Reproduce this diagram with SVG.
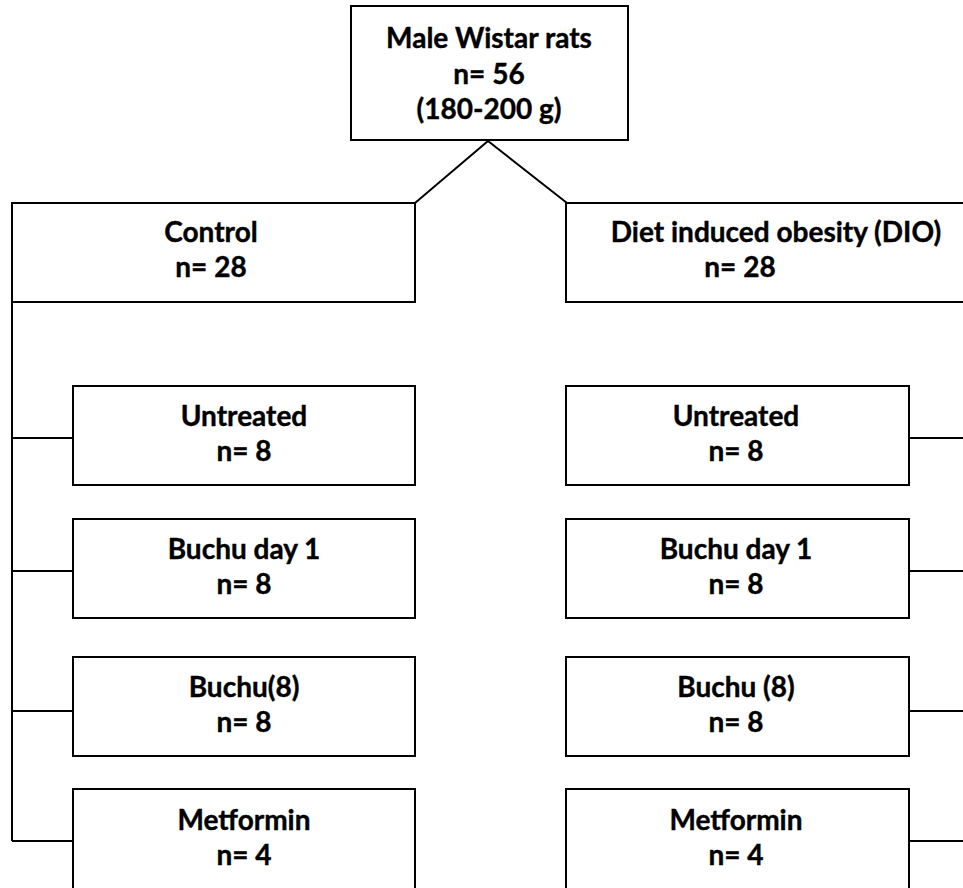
<svg xmlns="http://www.w3.org/2000/svg" width="963" height="888" viewBox="0 0 963 888">
<style>
.box{fill:#fff;stroke:#000;stroke-width:2}
.ln{fill:none;stroke:#000;stroke-width:2}
text{font-family:Lato,"Liberation Sans",sans-serif;font-weight:bold;font-size:28px;fill:#000;stroke:#000;stroke-width:0.4;text-anchor:middle}
</style>
<rect width="963" height="888" fill="#fff"/>
<g id="connectors">
<path class="ln" d="M488,141 L415,203 M488,141 L567,203"/>
<path class="ln" d="M12,302 V841 M12,438 H76 M12,571 H76 M12,711 H76 M12,841 H76"/>
<path class="ln" d="M906,438 H963 M906,571 H963 M906,711 H963 M906,841 H963"/>
</g>
<g id="root"><rect class="box" x="351" y="6" width="277" height="134"/>
<text x="489" y="48">Male Wistar rats</text><text x="489" y="84">n= 56</text><text x="489" y="119">(180-200 g)</text></g>
<g id="control"><rect class="box" x="12" y="203" width="403" height="99"/>
<text x="211" y="242">Control</text><text x="211" y="277">n= 28</text></g>
<g id="dio"><rect class="box" x="566" y="203" width="420" height="99"/>
<text x="776" y="242">Diet induced obesity (DIO)</text><text x="740" y="277">n= 28</text></g>
<g id="c-untreated"><rect class="box" x="73" y="386" width="342" height="99"/>
<text x="244" y="426">Untreated</text><text x="244" y="461">n= 8</text></g>
<g id="c-buchu1"><rect class="box" x="73" y="519" width="342" height="99"/>
<text x="244" y="559">Buchu day 1</text><text x="244" y="594">n= 8</text></g>
<g id="c-buchu8"><rect class="box" x="73" y="657" width="342" height="99"/>
<text x="244" y="697">Buchu(8)</text><text x="244" y="732">n= 8</text></g>
<g id="c-metformin"><rect class="box" x="73" y="789" width="342" height="110"/>
<text x="244" y="830">Metformin</text><text x="244" y="865">n= 4</text></g>
<g id="d-untreated"><rect class="box" x="566" y="386" width="343" height="99"/>
<text x="736" y="426">Untreated</text><text x="736" y="461">n= 8</text></g>
<g id="d-buchu1"><rect class="box" x="566" y="519" width="343" height="99"/>
<text x="736" y="559">Buchu day 1</text><text x="736" y="594">n= 8</text></g>
<g id="d-buchu8"><rect class="box" x="566" y="657" width="343" height="99"/>
<text x="736" y="697">Buchu (8)</text><text x="736" y="732">n= 8</text></g>
<g id="d-metformin"><rect class="box" x="566" y="789" width="343" height="110"/>
<text x="736" y="830">Metformin</text><text x="736" y="865">n= 4</text></g>
</svg>
